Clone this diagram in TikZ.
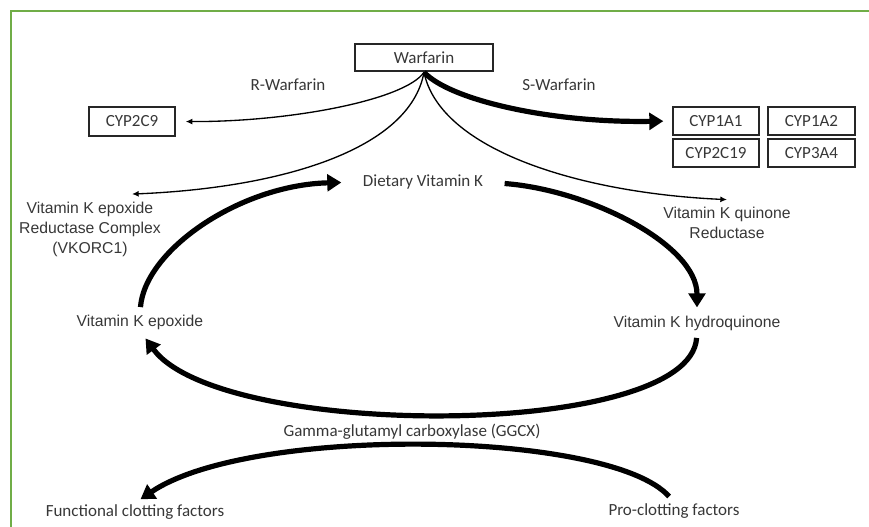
\documentclass[tikz,border=0pt]{standalone}
\usepackage{fontspec}
\setmainfont{Carlito}
\newfontfamily\arialfont{Liberation Sans}
\usetikzlibrary{arrows.meta}
\definecolor{framegreen}{RGB}{112,173,71}
\definecolor{labelgray}{RGB}{55,55,55}
\tikzset{
  cbox/.style={draw=black!85, line width=1pt, inner sep=0pt, minimum width=64.5pt, minimum height=21pt, text=labelgray, font=\fontsize{12.75}{15}\selectfont},
  clabel/.style={text=labelgray, inner sep=1pt, font=\fontsize{12.75}{15}\selectfont},
  alabel/.style={text=labelgray, inner sep=1pt, align=center, font=\arialfont\fontsize{11.8}{15}\selectfont},
  thinarrow/.style={draw=black, line width=1pt, -{Latex[length=5pt,width=4.5pt]}},
  thickarrow/.style={draw=black, line width=3.9pt, -{Triangle[length=10.5pt,width=12.5pt]}},
}

\begin{document}
\begin{tikzpicture}[x=0.75pt,y=0.75pt,yscale=-1,xscale=1]
\useasboundingbox (0,0) rectangle (869,527);
%Frame
\draw [color=framegreen, line width=1.5pt] (11,527) -- (11,11) -- (869,11) ;

%Boxes
\node [cbox, line width=1.9pt, minimum width=103.5pt, minimum height=20.25pt] (warfarin) at (424,57.5) {Warfarin};
\node [cbox, minimum height=21.75pt] (cyp2c9) at (132,121.5) {CYP2C9};
\node [cbox] (cyp1a1) at (716,121) {CYP1A1};
\node [cbox, minimum width=65.25pt] (cyp1a2) at (811.5,121) {CYP1A2};
\node [cbox] (cyp2c19) at (716,153) {CYP2C19};
\node [cbox, minimum width=65.25pt] (cyp3a4) at (811.5,153) {CYP3A4};

% Text Node
\node [clabel] (rwarf) at (288,85) {R-Warfarin};
% Text Node
\node [clabel] (swarf) at (559,85) {S-Warfarin};
% Text Node
\node [clabel] (dietary) at (423,182) {Dietary Vitamin K};
% Text Node
\node [alabel] (vkorc) at (90,229) {Vitamin K epoxide\\Reductase Complex\\(VKORC1)};
% Text Node
\node [alabel] (quinone) at (727,223) {Vitamin K quinone\\Reductase};
% Text Node
\node [alabel] (epoxide) at (140,322) {Vitamin K epoxide};
% Text Node
\node [alabel] (hydro) at (697,323) {Vitamin K hydroquinone};
% Text Node
\node [clabel] (ggcx) at (412,432) {Gamma-glutamyl carboxylase (GGCX)};
% Text Node
\node [clabel] (functional) at (135,512) {Functional clotting factors};
% Text Node
\node [clabel] (proclot) at (674,511) {Pro-clotting factors};

%Warfarin branches
\draw [thinarrow, shorten >=7.5pt] (warfarin.south) .. controls (405,100) and (290,122) .. (cyp2c9.east) ;
\draw [thickarrow, shorten >=6.75pt] (warfarin.south) .. controls (450,100) and (550,123) .. (cyp1a1.west) ;
\draw [thinarrow] (warfarin.south) .. controls (410,150) and (280,188) .. ([xshift=31.5pt,yshift=-4.5pt]vkorc.north) ;
\draw [thinarrow] (warfarin.south) .. controls (440,150) and (580,193) .. ([yshift=-4.5pt]quinone.north) ;

%Vitamin K cycle
\draw [thickarrow, shorten <=4.5pt, shorten >=15pt] (epoxide.north) .. controls (145,250) and (240,185) .. (dietary.west) ;
\draw [thickarrow, shorten <=15pt, shorten >=5pt] (dietary.east) .. controls (590,190) and (697,245) .. (hydro.north) ;
\draw [thickarrow, shorten <=4.5pt, shorten >=7pt] (hydro.south) .. controls (690,440) and (220,440) .. (epoxide.south) ;

%Clotting factors
\draw [thickarrow, shorten <=5.5pt, shorten >=5pt] (proclot.north) .. controls (610,430) and (250,425) .. (functional.north) ;
\end{tikzpicture}
\end{document}
